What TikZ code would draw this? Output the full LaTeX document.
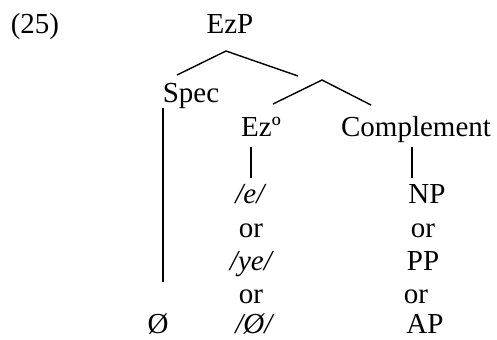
\documentclass[tikz,border=0pt]{standalone}
\usepackage{fontspec}
\setmainfont{Liberation Serif}
\usepackage{tikz}

\begin{document}
\begin{tikzpicture}[x=0.5pt,y=-0.5pt,font=\fontsize{14.5}{17}\selectfont,
  lbl/.style={anchor=base,inner sep=0pt},
  br/.style={line width=0.7pt}]

\useasboundingbox (0,0) rectangle (497,339);

\node[lbl] (num) at (35,33) {(25)};
\node[lbl] (ezp) at (230,33) {EzP};
\node[lbl] (spec) at (191,102) {Spec};
\node[lbl] (ez) at (261,136) {Ezº};
\node[lbl] (comp) at (416,136) {Complement};

% Ez column
\node[lbl] (e) at (251,203) {\textit{/e/}};
\node[lbl] (or1) at (251,237) {or};
\node[lbl] (ye) at (252,270) {\textit{/ye/}};
\node[lbl] (or2) at (251,303) {or};
\node[lbl] (nul) at (255,333) {\textit{/Ø/}};

% Complement column
\node[lbl] (np) at (427,203) {NP};
\node[lbl] (or3) at (423,237) {or};
\node[lbl] (pp) at (423,270) {PP};
\node[lbl] (or4) at (416,303) {or};
\node[lbl] (ap) at (425,333) {AP};

\node[lbl] (empty) at (158,333) {Ø};

% branches
\coordinate (top1) at (226,51);
\coordinate (spec-in) at (177,75);
\coordinate (bar-in) at (298,76);
\coordinate (top2) at (322,80);
\coordinate (ez-in) at (273,104);
\coordinate (comp-in) at (371,105);

\draw[br] (spec-in) -- (top1) -- (bar-in);
\draw[br] (ez-in) -- (top2) -- (comp-in);

\draw[br] (163,108) -- (163,282);
\draw[br] (251,147) -- (251,178);
\draw[br] (412,147) -- (412,178);

\end{tikzpicture}
\end{document}
